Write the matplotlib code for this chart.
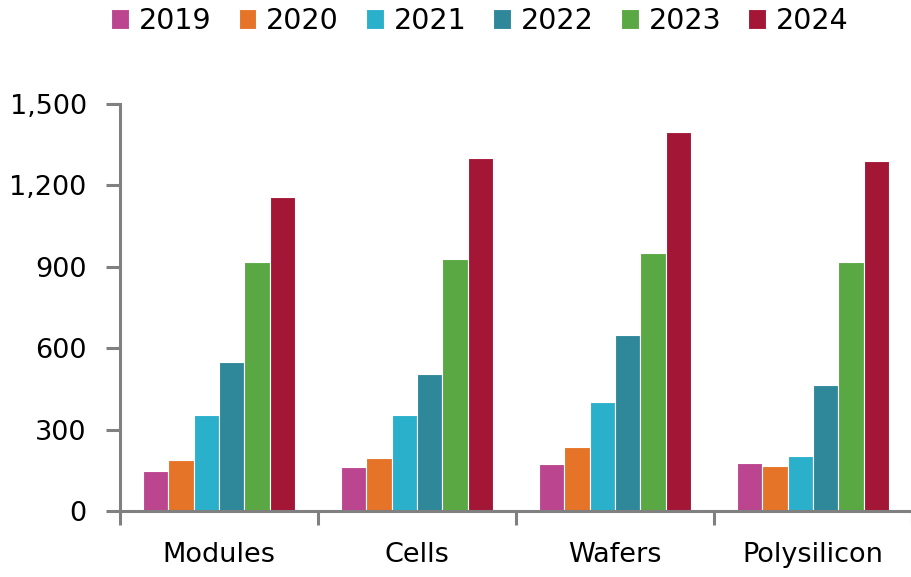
import numpy as np
import matplotlib
matplotlib.use("Agg")
import matplotlib.pyplot as plt

categories = ["Modules", "Cells", "Wafers", "Polysilicon"]
years = ["2019", "2020", "2021", "2022", "2023", "2024"]
values = {
    "2019": [149, 162, 173, 177],
    "2020": [190, 198, 237, 165],
    "2021": [355, 355, 403, 205],
    "2022": [550, 504, 648, 465],
    "2023": [919, 928, 950, 919],
    "2024": [1156, 1300, 1397, 1289],
}
colors = ["#BC4590", "#E57428", "#2AB0CB", "#2F889A", "#5AA843", "#A31636"]

plt.rcParams["font.family"] = ["DejaVu Sans"]
axis_grey = "#808080"

fig = plt.figure(figsize=(9.12, 5.77), dpi=100)
ax = fig.add_axes([120 / 912, 65.7 / 577, 792 / 912, 407.3 / 577])

x = np.arange(len(categories))
width = 0.128
for i, (yr, col) in enumerate(zip(years, colors)):
    offs = (i - 2.5) * width
    ax.bar(x + offs, values[yr], width, color=col, edgecolor="white",
           linewidth=0.8, label=yr, zorder=2)

ax.set_xlim(-0.5, 3.44)
ax.set_ylim(0, 1500)
ax.set_yticks([0, 300, 600, 900, 1200, 1500])
ax.set_yticklabels(["0", "300", "600", "900", "1,200", "1,500"])

# category labels centred, ticks at group boundaries
ax.set_xticks(x)
ax.set_xticklabels(categories)
ax.set_xticks(np.arange(-0.5, 4.0, 1.0), minor=True)
ax.tick_params(axis="x", which="major", length=0, pad=22, labelsize=19.5)
ax.tick_params(axis="x", which="minor", length=10, width=2.2, color=axis_grey)
ax.tick_params(axis="y", length=10, width=2.2, color=axis_grey, labelsize=19.5, pad=14)

for s in ["top", "right"]:
    ax.spines[s].set_visible(False)
for s in ["left", "bottom"]:
    ax.spines[s].set_color(axis_grey)
    ax.spines[s].set_linewidth(2.2)

fig.legend(loc="center", bbox_to_anchor=(480 / 912, 1 - 21 / 577), ncol=6,
           frameon=False, fontsize=20.5, handlelength=0.62, handleheight=0.68,
           handletextpad=0.35, columnspacing=0.95, borderaxespad=0)

fig.savefig("out.png", dpi=100)
